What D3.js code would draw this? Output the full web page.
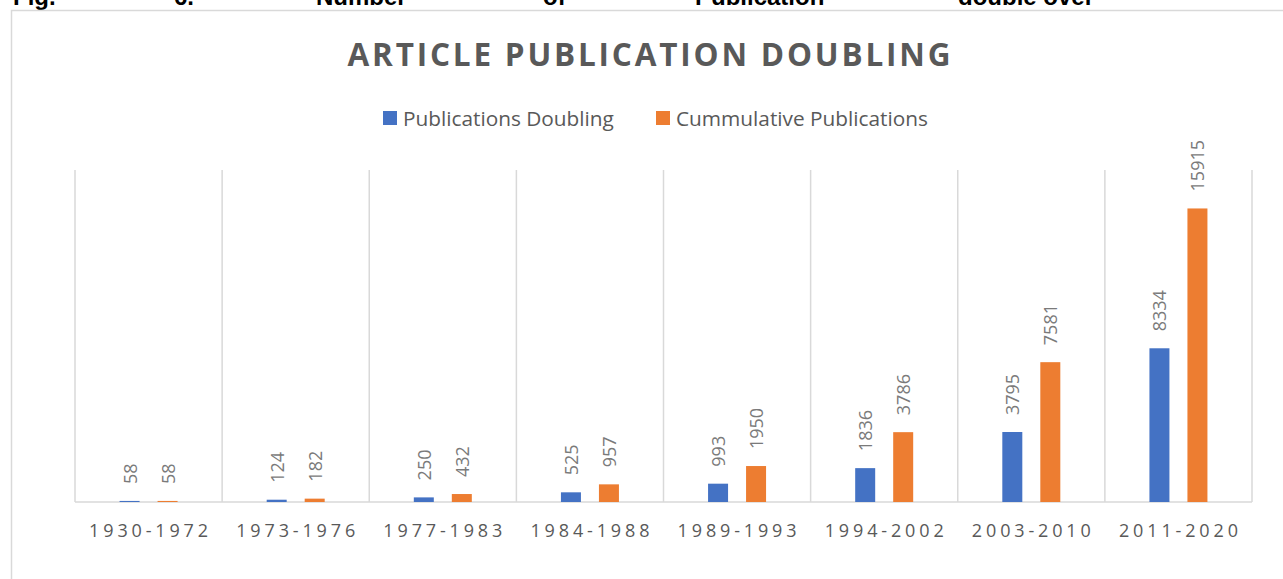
<!DOCTYPE html>
<html>
<head>
<meta charset="utf-8">
<script src="https://cdn.jsdelivr.net/npm/d3@7/dist/d3.min.js"></script>
<style>
  html, body { margin: 0; padding: 0; background: #fff; }
  svg { display: block; }
</style>
</head>
<body>
<svg id="chart" width="1283" height="579"></svg>
<script>
const categories = ["1930-1972","1973-1976","1977-1983","1984-1988","1989-1993","1994-2002","2003-2010","2011-2020"];
const doubling = [58, 124, 250, 525, 993, 1836, 3795, 8334];
const cumulative = [58, 182, 432, 957, 1950, 3786, 7581, 15915];
const seriesNames = ["Publications Doubling", "Cummulative Publications"];
const seriesColors = ["#4472C4", "#ED7D31"];
const yMax = 18000;
const captionWords = ["Fig.", "6.", "Number", "of", "Publication", "double over"];
const captionX = [13, 174, 316, 543, 695, 958];

const svg = d3.select("#chart");
const FONT = "'Open Sans', 'Noto Sans', sans-serif";

// caption (cut off at top, as in the reference)
svg.append("g").selectAll("text").data(captionWords).join("text")
  .attr("x", (d, i) => captionX[i]).attr("y", 5)
  .attr("font-family", "'Liberation Sans', Arial, sans-serif")
  .attr("font-weight", "bold").attr("font-size", 24).attr("fill", "#000")
  .text(d => d);

// chart border
svg.append("rect").attr("x", 11.5).attr("y", 10.5).attr("width", 1300).attr("height", 600)
  .attr("fill", "#fff").attr("stroke", "#d9d9d9").attr("stroke-width", 1.5);

// title
svg.append("text").attr("x", 649).attr("y", 66)
  .attr("text-anchor", "middle").attr("font-family", FONT)
  .attr("font-weight", "bold").attr("font-size", 31.5).attr("fill", "#595959")
  .attr("textLength", 603).attr("lengthAdjust", "spacing")
  .text("ARTICLE PUBLICATION DOUBLING");

// legend
const legendX = [383, 656];
const lg = svg.append("g");
seriesNames.forEach((n, i) => {
  lg.append("rect").attr("x", legendX[i]).attr("y", 111).attr("width", 14).attr("height", 14)
    .attr("fill", seriesColors[i]);
  lg.append("text").attr("x", legendX[i] + 20).attr("y", 118)
    .attr("dominant-baseline", "central")
    .attr("font-family", FONT).attr("font-size", 20.8).attr("fill", "#595959")
    .text(n);
});

// scales
const x = d3.scaleBand().domain(categories).range([75, 1252]).padding(0);
const y = d3.scaleLinear().domain([0, yMax]).range([502, 170]);
const bw = x.bandwidth();
const sub = d3.scaleBand().domain([0, 1]).range([bw / 2 - 29, bw / 2 + 29]).paddingInner(18 / 38).paddingOuter(0);

// gridlines at category boundaries
const bounds = categories.map(c => x(c)).concat([x.range()[1]]);
svg.append("g").selectAll("line").data(bounds).join("line")
  .attr("x1", d => d).attr("x2", d => d)
  .attr("y1", y(yMax)).attr("y2", y(0))
  .attr("stroke", "#d9d9d9").attr("stroke-width", 1.5);

// baseline
svg.append("line").attr("x1", x.range()[0]).attr("x2", x.range()[1])
  .attr("y1", y(0)).attr("y2", y(0))
  .attr("stroke", "#d9d9d9").attr("stroke-width", 1.5);

// bars
const data = [];
categories.forEach((c, i) => {
  data.push({ c, s: 0, v: doubling[i] });
  data.push({ c, s: 1, v: cumulative[i] });
});
const bars = svg.append("g");
bars.selectAll("rect").data(data).join("rect")
  .attr("x", d => x(d.c) + sub(d.s))
  .attr("width", sub.bandwidth())
  .attr("y", d => y(d.v))
  .attr("height", d => y(0) - y(d.v))
  .attr("fill", d => seriesColors[d.s]);

// data labels
bars.selectAll("text").data(data).join("text")
  .attr("transform", d => `translate(${x(d.c) + sub(d.s) + sub.bandwidth() / 2},${y(d.v) - 17}) rotate(-90)`)
  .attr("text-anchor", "start").attr("dominant-baseline", "central")
  .attr("font-family", FONT).attr("font-size", 18).attr("fill", "#7a7a7a")
  .text(d => d.v);

// x axis labels
const xAxis = d3.axisBottom(x).tickSize(0).tickPadding(0);
const ax = svg.append("g").attr("transform", `translate(0,${y(0)})`).call(xAxis);
ax.select(".domain").remove();
ax.selectAll("text")
  .attr("y", 35).attr("dy", null)
  .attr("font-family", FONT).attr("font-size", 18).attr("fill", "#595959")
  .attr("textLength", 119).attr("lengthAdjust", "spacing");
</script>
</body>
</html>
